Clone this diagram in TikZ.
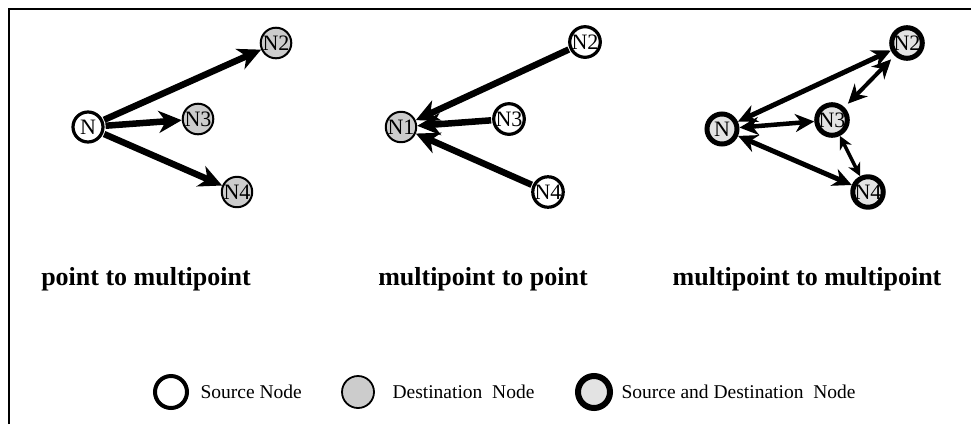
\documentclass[tikz,border=0pt]{standalone}
\usepackage{fontspec}
\setmainfont{Liberation Serif}
\usetikzlibrary{arrows.meta}
\begin{document}
\begin{tikzpicture}[x=1pt,y=-1pt,
  nd/.style={circle,inner sep=0pt,minimum size=30pt,font=\fontsize{22}{22}\selectfont},
  srcnode/.style={nd,draw,line width=3.2pt,fill=white},
  dstnode/.style={nd,draw,line width=2pt,fill=gray!40},
  sdnode/.style={nd,draw,line width=5pt,fill=gray!22},
  bigarrow/.style={line width=6.5pt,shorten <=1pt,-{Stealth[length=23pt,width=22pt,inset=7pt]}},
  dblarrow/.style={line width=#1,{Stealth[length=19pt,width=18pt,inset=6pt]}-{Stealth[length=19pt,width=18pt,inset=6pt]}},
  smalldbl/.style={line width=3.5pt,{Stealth[length=13pt,width=13pt,inset=4pt]}-{Stealth[length=13pt,width=13pt,inset=4pt]}},
  title/.style={anchor=base,font=\fontsize{26}{26}\selectfont\bfseries},
  legtext/.style={anchor=base west,font=\fontsize{19.5}{19.5}\selectfont},
  legcirc/.style={circle,inner sep=0pt,minimum size=32pt}
]
\useasboundingbox (0,0) rectangle (971,424);
\draw[line width=2.5pt] (9,424) -- (9,9) -- (971,9);

% panel 1: point to multipoint
\node[srcnode] (a1) at (88,127) {N};
\node[dstnode] (a2) at (276,43) {N2};
\node[dstnode] (a3) at (198,119) {N3};
\node[dstnode] (a4) at (237,192) {N4};
\draw[bigarrow] (a1) -- (a2);
\draw[bigarrow] (a1) -- (a3);
\draw[bigarrow] (a1) -- (a4);

% panel 2: multipoint to point
\node[dstnode] (b1) at (401,127) {N1};
\node[srcnode] (b2) at (585,42) {N2};
\node[srcnode] (b3) at (509,119) {N3};
\node[srcnode] (b4) at (548,192) {N4};
\draw[bigarrow] (b2) -- (b1);
\draw[bigarrow] (b3) -- (b1);
\draw[bigarrow] (b4) -- (b1);

% panel 3: multipoint to multipoint
\node[sdnode] (c1) at (722,129) {N};
\node[sdnode] (c2) at (907,43) {N2};
\node[sdnode] (c3) at (832,120) {N3};
\node[sdnode] (c4) at (868,192) {N4};
\draw[dblarrow=5pt] (c1) -- (c2);
\draw[dblarrow=4.5pt] (c1) -- (c3);
\draw[dblarrow=5pt] (c1) -- (c4);
\draw[dblarrow=4pt,shorten <=5pt,shorten >=5pt] (c3) -- (c2);
\draw[smalldbl] (c3) -- (c4);

% titles
\node[title] (t1) at (146,285) {point to multipoint};
\node[title] (t2) at (483,285) {multipoint to point};
\node[title] (t3) at (807,285) {multipoint to multipoint};

% legend
\node[legcirc,draw,line width=4pt,fill=white] (l1) at (171,392) {};
\node[legtext] (l1t) at (197,398) {Source Node};
\node[legcirc,draw,line width=1.8pt,fill=gray!40] (l2) at (358,392) {};
\node[legtext] (l2t) at (389,398) {Destination\ \ Node};
\node[legcirc,draw,line width=6pt,fill=gray!22] (l3) at (594,392) {};
\node[legtext] (l3t) at (618,398) {Source and Destination\ \ Node};
\end{tikzpicture}
\end{document}
